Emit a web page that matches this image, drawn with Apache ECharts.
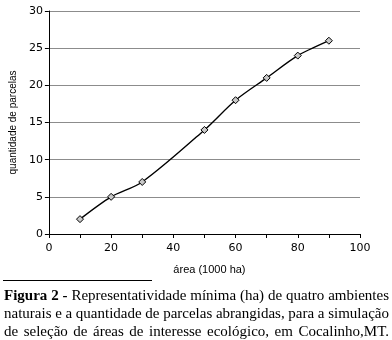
<!DOCTYPE html>
<html>
<head>
<meta charset="utf-8">
<script src="https://cdn.jsdelivr.net/npm/echarts@6/dist/echarts.min.js"></script>
<style>
  html, body { margin: 0; padding: 0; background: #fff; }
  #chart { width: 392px; height: 340px; }
</style>
</head>
<body>
<div id="chart"></div>
<script>
// Área simulada (1000 ha) e quantidade de parcelas abrangidas
const areas = [10, 20, 30, 50, 60, 70, 80, 90];
const parcelas = [2, 5, 7, 14, 18, 21, 24, 26];

const xTicks = { min: 0, max: 100, step: 10 };
const yTicks = { min: 0, max: 30, step: 5 };

const xName = 'área (1000 ha)';
const yName = 'quantidade de parcelas';

// Legenda da figura, linha a linha; as primeiras palavras vão em negrito
const captionLines = [
  ['Figura', '2', '-', 'Representatividade', 'mínima', '(ha)', 'de', 'quatro', 'ambientes'],
  ['naturais', 'e', 'a', 'quantidade', 'de', 'parcelas', 'abrangidas,', 'para', 'a', 'simulação'],
  ['de', 'seleção', 'de', 'áreas', 'de', 'interesse', 'ecológico,', 'em', 'Cocalinho,MT.']
];
const boldWords = 3;

const chart = echarts.init(document.getElementById('chart'), null, { renderer: 'canvas' });

// Texto justificado: mede cada palavra e reparte a sobra como espaço
const measureCtx = document.createElement('canvas').getContext('2d');
const serif = '"Liberation Serif", "Times New Roman", serif';
const capSize = 15;
function fontFor(bold) {
  return (bold ? 'bold ' : '') + capSize + 'px ' + serif;
}
const capLeft = 4, capRight = 389;
const capCenters = [296, 314, 332];
const captionGraphics = [];
captionLines.forEach(function (words, li) {
  const widths = words.map(function (w, wi) {
    measureCtx.font = fontFor(li === 0 && wi < boldWords);
    return measureCtx.measureText(w).width;
  });
  const total = widths.reduce(function (a, b) { return a + b; }, 0);
  const gap = (capRight - capLeft - total) / (words.length - 1);
  let x = capLeft;
  words.forEach(function (w, wi) {
    const bold = li === 0 && wi < boldWords;
    captionGraphics.push({
      type: 'text',
      x: x,
      y: capCenters[li],
      style: {
        text: w,
        font: fontFor(bold),
        fill: '#000',
        textAlign: 'left',
        textVerticalAlign: 'middle',
        verticalAlign: 'middle'
      }
    });
    x += widths[wi] + gap;
  });
});

const tickFont = { fontFamily: 'DejaVu Sans', fontSize: 11, color: '#000' };

chart.setOption({
  animation: false,
  backgroundColor: '#fff',
  grid: { left: 48, right: 32, top: 11, bottom: 106, containLabel: false },
  xAxis: {
    type: 'value',
    min: xTicks.min,
    max: xTicks.max,
    interval: xTicks.step,
    name: xName,
    nameLocation: 'middle',
    nameGap: 30,
    nameTextStyle: { fontFamily: 'Liberation Sans', fontSize: 11, color: '#000', padding: [0, 0, 0, 10] },
    axisLine: { onZero: false, lineStyle: { color: '#000', width: 1 } },
    axisTick: { show: true, length: 4, inside: false, lineStyle: { color: '#000' } },
    axisLabel: {
      margin: 9,
      formatter: function (v) { return v % 20 === 0 ? String(v) : ''; },
      ...tickFont
    },
    splitLine: { show: false }
  },
  yAxis: {
    type: 'value',
    min: yTicks.min,
    max: yTicks.max,
    interval: yTicks.step,
    name: yName,
    nameLocation: 'middle',
    nameRotate: 90,
    nameGap: 25,
    nameTextStyle: { fontFamily: 'Liberation Sans', fontSize: 10, color: '#000' },
    axisLine: { show: true, lineStyle: { color: '#000', width: 1 } },
    axisTick: { show: true, length: 4, inside: false, lineStyle: { color: '#000' } },
    axisLabel: { margin: 6, ...tickFont },
    splitLine: { show: true, lineStyle: { color: '#8c8c8c', width: 1 } }
  },
  series: [{
    type: 'line',
    data: areas.map(function (a, i) { return [a, parcelas[i]]; }),
    smooth: 0.3,
    symbol: 'diamond',
    symbolSize: 7,
    showAllSymbol: true,
    lineStyle: { color: '#000', width: 1.4 },
    itemStyle: { color: '#c8c8c8', borderColor: '#000', borderWidth: 1 },
    z: 3
  }],
  graphic: [{
    type: 'line',
    shape: { x1: 3, y1: 280.5, x2: 152, y2: 280.5 },
    style: { stroke: '#000', lineWidth: 1 }
  }].concat(captionGraphics)
});
</script>
</body>
</html>
